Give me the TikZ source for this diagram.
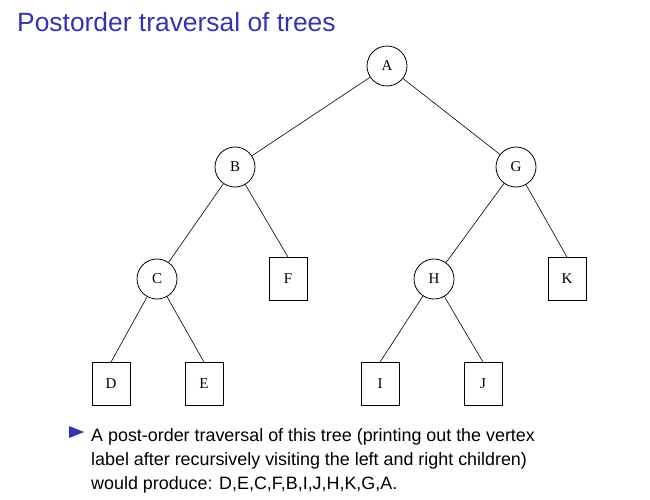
\documentclass[tikz,border=0pt]{standalone}
\usepackage{fontspec}
\setmainfont{Liberation Serif}
\newfontfamily\arialfont{Liberation Sans}
\definecolor{struct}{RGB}{51,51,179}
\begin{document}
\begin{tikzpicture}[x=1pt,y=-1pt,
  vtx/.style={draw,circle,line width=0.8pt,minimum size=40pt,inner sep=0pt,font=\fontsize{15}{17}\selectfont},
  leaf/.style={draw,rectangle,line width=0.8pt,minimum width=38pt,minimum height=43pt,inner sep=0pt,font=\fontsize{15}{17}\selectfont},
  edge/.style={line width=0.6pt}]
\useasboundingbox (0,0) rectangle (650,500);
\node[anchor=base west,text=struct,font=\arialfont\fontsize{26.4}{30}\selectfont,inner sep=0pt] (title) at (17,32) {Postorder traversal of trees};
\node[vtx] (A) at (387,66) {A};
\node[vtx] (B) at (235,167) {B};
\node[vtx] (G) at (516,167) {G};
\node[vtx] (C) at (157,279) {C};
\node[leaf] (F) at (288,279) {F};
\node[vtx] (H) at (434,279) {H};
\node[leaf] (K) at (567,279) {K};
\node[leaf] (D) at (111,384) {D};
\node[leaf] (E) at (204,384) {E};
\node[leaf] (I) at (380,384) {I};
\node[leaf] (J) at (483,384) {J};
\draw[edge] (A) -- (B);
\draw[edge] (A) -- (G);
\draw[edge] (B) -- (C);
\draw[edge] (B) -- (F.north);
\draw[edge] (G) -- (H);
\draw[edge] (G) -- (K.north);
\draw[edge] (C) -- (D.north);
\draw[edge] (C) -- (E.north);
\draw[edge] (H) -- (I.north);
\draw[edge] (H) -- (J.north);
\fill[struct] (69,426) -- (84,432) -- (69,438) -- cycle;
\node[anchor=north west,inner sep=0pt,align=left,font=\arialfont\fontsize{17.9}{24}\selectfont] (txt) at (91,428) {A post-order traversal of this tree (printing out the vertex\\label after recursively visiting the left and right children)\\would produce: D,E,C,F,B,I,J,H,K,G,A.};
\end{tikzpicture}
\end{document}
